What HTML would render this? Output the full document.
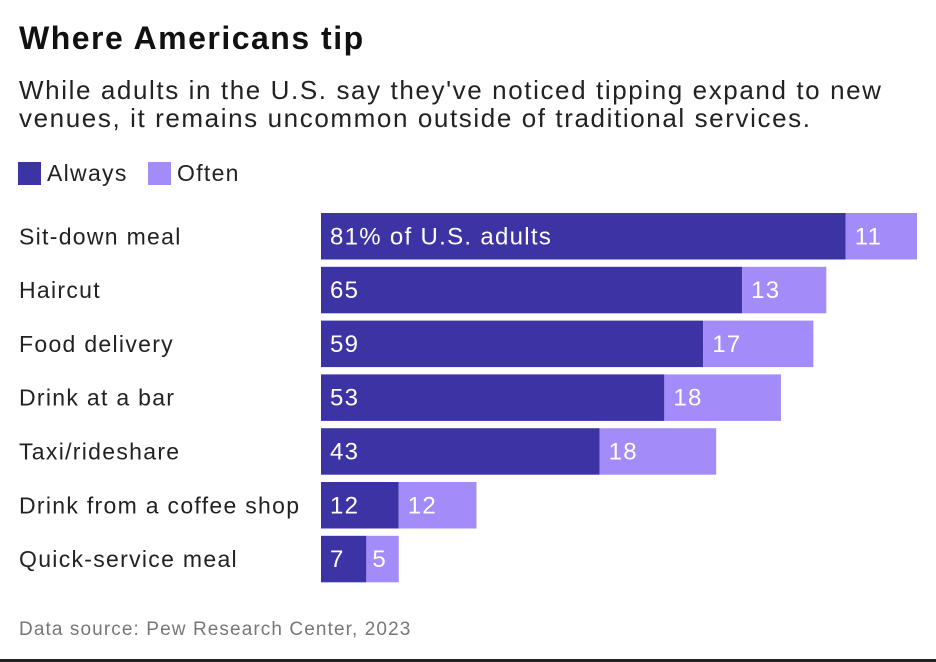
<!DOCTYPE html>
<html><head><meta charset="utf-8"><style>
body{margin:0;width:936px;height:662px;background:#fff;font-family:"Liberation Sans",Arial,sans-serif;position:relative;overflow:hidden}
.t{position:absolute;left:19px;top:20px;font-size:32px;font-weight:bold;color:#111;letter-spacing:1.5px}
.s{position:absolute;left:19px;top:76px;font-size:26px;line-height:28px;color:#222;width:910px;letter-spacing:1.6px}
.lg{position:absolute;top:160px;font-size:23px;color:#222;display:flex;align-items:center;letter-spacing:1.3px}
.sw{width:23px;height:23px;margin-right:6px}
.src{position:absolute;left:19px;top:619px;font-size:19px;color:#777;letter-spacing:1.1px}
.bl{position:absolute;left:0;top:659px;width:936px;height:3px;background:#222}
svg text{letter-spacing:1.3px}
</style></head><body>
<div class="t">Where Americans tip</div>
<div class="s">While adults in the U.S. say they've noticed tipping expand to new venues, it remains uncommon outside of traditional services.</div>
<div class="lg" style="left:18px"><div class="sw" style="background:#3c34a5"></div>Always</div>
<div class="lg" style="left:148px"><div class="sw" style="background:#a38cf9"></div>Often</div>
<svg id="chart" width="936" height="662" style="position:absolute;left:0;top:0"></svg>
<div class="src">Data source: Pew Research Center, 2023</div>
<div class="bl"></div>
<script>
const categories=["Sit-down meal","Haircut","Food delivery","Drink at a bar","Taxi/rideshare","Drink from a coffee shop","Quick-service meal"];
const always=[81,65,59,53,43,12,7];
const often=[11,13,17,18,18,12,5];
const NS="http://www.w3.org/2000/svg";
const svg=document.getElementById('chart');
const x0=321,k=596/92;
const xs=v=>v*k;
const y=i=>213+i*53.8;
const bh=46.5;
function mk(tag,attrs){const e=document.createElementNS(NS,tag);for(const a in attrs)e.setAttribute(a,attrs[a]);svg.appendChild(e);return e;}
categories.forEach((c,i)=>{
  const yy=y(i);
  const lab=mk('text',{x:19,y:yy+bh/2+8,'font-size':23,fill:'#222'});
  lab.textContent=c;
  
  
  const wa=xs(always[i]),wo=xs(often[i]);
  const ra=mk('rect',{x:x0,y:yy,width:wa,height:bh,fill:'#3c34a5'});
  
  
  const ro=mk('rect',{x:x0+wa,y:yy,width:wo,height:bh,fill:'#a38cf9'});
  
  
  const ta=mk('text',{x:x0+9,y:yy+bh/2+8,'font-size':24,fill:'#fff'});
  ta.textContent=i===0?always[i]+"% of U.S. adults":always[i];
  
  
  const to=mk('text',{x:x0+wa+(often[i]<8?6:9),y:yy+bh/2+8,'font-size':24,fill:'#fff'});
  to.textContent=often[i];
  
  
});
</script>
</body></html>
